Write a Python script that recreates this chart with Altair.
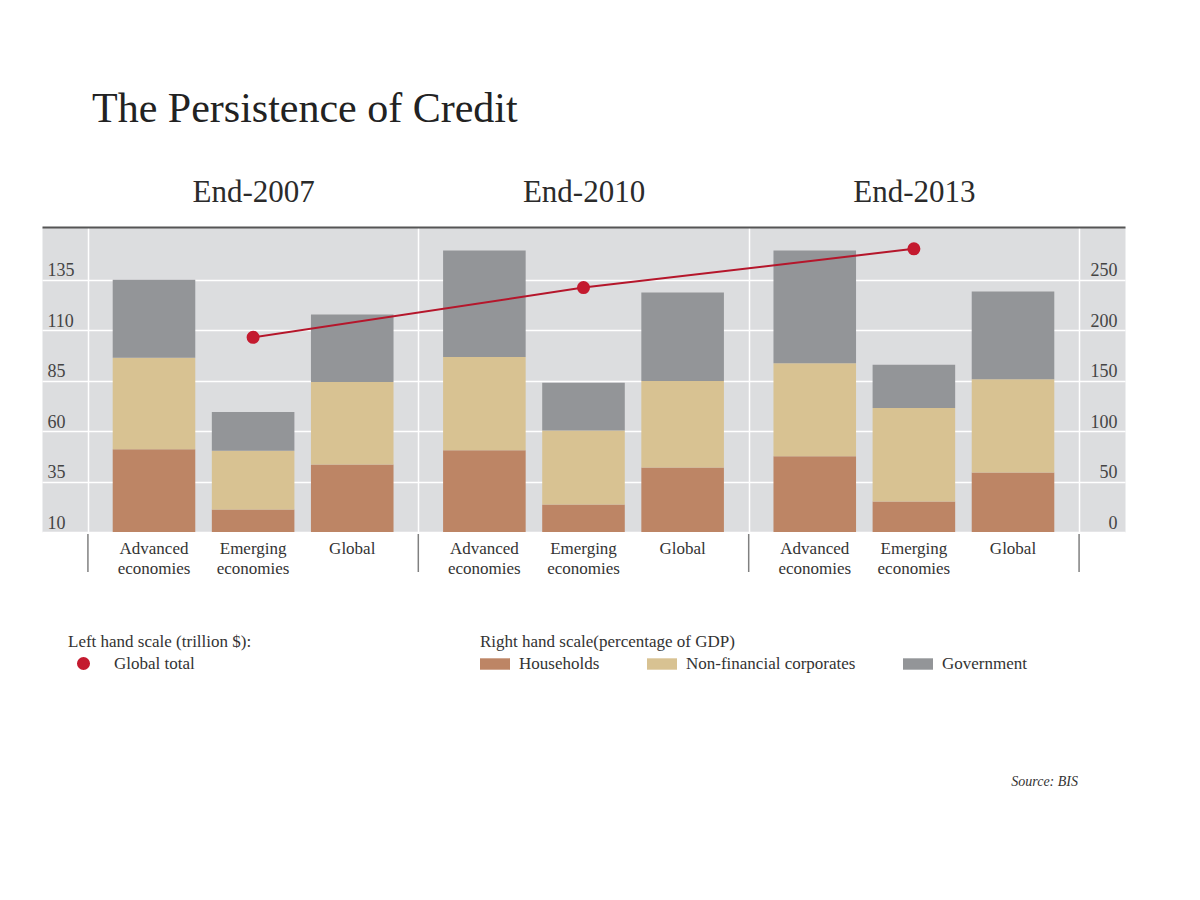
import altair as alt
import pandas as pd

# ---------------- data ----------------
periods = ["End-2007", "End-2010", "End-2013"]
categories = ["Advanced economies", "Emerging economies", "Global"]
sectors = ["Households", "Non-financial corporates", "Government"]

# right hand scale (percentage of GDP), order: periods x categories
households = [82.0, 22.2, 66.8, 81.0, 27.2, 63.9, 75.1, 30.2, 58.9]
corporates = [90.6, 58.2, 81.7, 92.3, 73.4, 85.6, 92.0, 92.5, 92.3]
government = [77.1, 38.4, 66.8, 105.5, 47.2, 87.6, 111.7, 43.0, 86.9]

# left hand scale (trillion $)
global_total = [106.4, 131.0, 150.2]

left_ticks = [10, 35, 60, 85, 110, 135]
right_ticks = [0, 50, 100, 150, 200, 250]

sector_colors = ["#bd8565", "#d8c292", "#939598"]
red = "#c41a2f"
FONT = "Liberation Serif"

rows = []
i = 0
for p in periods:
    for c in categories:
        for k, (s, vals) in enumerate(zip(sectors, [households, corporates, government])):
            rows.append({"period": p, "category": c, "sector": s, "value": vals[i], "order": k})
        i += 1
bars_df = pd.DataFrame(rows)

line_df = pd.DataFrame({"period": periods, "total": global_total, "label": ["Global total"] * 3})

label_rows = []
for p in periods:
    for c in categories:
        label_rows.append({"period": p, "category": c, "text": c.split(" ")})
labels_df = pd.DataFrame(label_rows)
periods_df = pd.DataFrame({"period": periods})
last_df = pd.DataFrame({"period": periods[-1:]})
source_df = pd.DataFrame({"t": ["Source: BIS"]})

W, H = 1083, 305

# ---------------- scales & axes ----------------
xscale = alt.Scale(type="band", domain=periods, paddingInner=0, paddingOuter=0.139)
xoff_scale = alt.Scale(domain=categories, paddingInner=0.167, paddingOuter=0.25)
y_right = alt.Scale(domain=[0, 302], nice=False, zero=False)
y_left = alt.Scale(domain=[10, 161], nice=False, zero=False)

xaxis = alt.Axis(
    orient="top", title=None, labelAngle=0, labelFont=FONT, labelFontSize=31,
    labelColor="#2b2b2b", labelPadding=26, labelBaseline="alphabetic",
    ticks=False, tickSize=0, tickBand="extent",
    grid=True, gridColor="white", gridWidth=1.5,
    domain=True, domainColor="#555555", domainWidth=2,
)

X = alt.X("period:N", scale=xscale, axis=xaxis, sort=periods)
XO = alt.XOffset("category:N", scale=xoff_scale, sort=categories)

bars = alt.Chart(bars_df).mark_bar().encode(
    x=X,
    xOffset=XO,
    y=alt.Y(
        "sum(value):Q", scale=y_right, stack="zero",
        axis=alt.Axis(
            orient="right", values=right_ticks, title=None, labelAlign="right",
            labelPadding=-8, ticks=False, tickSize=0, domain=False,
            grid=True, gridColor="white", gridWidth=1.5,
            labelFont=FONT, labelFontSize=18, labelColor="#444444",
            labelBaseline="bottom",
        ),
    ),
    fill=alt.Fill(
        "sector:N",
        scale=alt.Scale(domain=sectors, range=sector_colors),
        legend=alt.Legend(
            orient="none", legendX=438, legendY=407, direction="horizontal",
            title="Right hand scale(percentage of GDP)", titleFont=FONT,
            titleFontSize=17, titleFontWeight="normal", titleColor="#333333",
            titlePadding=-2, titleLimit=600, labelFont=FONT, labelFontSize=17,
            labelColor="#333333",
            symbolType="M-1,-0.38H1V0.38H-1Z", symbolSize=900, symbolStrokeWidth=0,
            symbolOpacity=1, labelOffset=9, columnPadding=47, labelLimit=300,
        ),
    ),
    order=alt.Order("order:Q", sort="ascending"),
)

line = alt.Chart(line_df).mark_line(color="#b5162b", strokeWidth=2).encode(
    x=X,
    y=alt.Y(
        "total:Q", scale=y_left,
        axis=alt.Axis(
            orient="left", values=left_ticks, title=None, labelAlign="left",
            labelPadding=-5, ticks=False, tickSize=0, domain=False, grid=False,
            labelFont=FONT, labelFontSize=18, labelColor="#444444",
            labelBaseline="bottom",
        ),
    ),
)

points = alt.Chart(line_df).mark_circle(size=170, opacity=1).encode(
    x=X,
    y=alt.Y("total:Q", scale=y_left, axis=None),
    color=alt.Color(
        "label:N",
        scale=alt.Scale(domain=["Global total"], range=[red]),
        legend=alt.Legend(
            orient="none", legendX=26, legendY=407, title="Left hand scale (trillion $):",
            titleFont=FONT, titleFontSize=17, titleFontWeight="normal",
            titleColor="#333333", titlePadding=4, titleLimit=600, labelFont=FONT,
            labelFontSize=17, labelColor="#333333", symbolType="circle", symbolSize=170,
            symbolOffset=7, labelOffset=22, symbolStrokeWidth=0, symbolOpacity=1,
        ),
    ),
)

cat_labels = alt.Chart(labels_df).mark_text(
    font=FONT, fontSize=17, color="#333333", baseline="alphabetic",
    align="center", lineHeight=20,
).encode(x=X, xOffset=XO, y=alt.value(H + 22), text="text")

ticks_start = alt.Chart(periods_df).mark_rule(color="#808080", strokeWidth=1.5).encode(
    x=alt.X("period:N", scale=xscale, axis=xaxis, sort=periods, bandPosition=0),
    y=alt.value(H + 2), y2=alt.value(H + 40),
)
ticks_end = alt.Chart(last_df).mark_rule(color="#808080", strokeWidth=1.5).encode(
    x=alt.X("period:N", scale=xscale, axis=xaxis, sort=periods, bandPosition=1),
    y=alt.value(H + 2), y2=alt.value(H + 40),
)

source = alt.Chart(source_df).mark_text(
    font=FONT, fontSize=14, fontStyle="italic", color="#333333",
    align="right", baseline="middle",
).encode(text="t:N", x=alt.value(1036), y=alt.value(555))

chart = alt.layer(
    bars, line, points, cat_labels, ticks_start, ticks_end, source
).resolve_scale(
    y="independent"
).properties(
    width=W, height=H,
    padding={"left": 34, "top": 219, "right": 30, "bottom": 280},
    autosize=alt.AutoSizeParams(type="none"),
    title=alt.Title(
        "The Persistence of Credit", anchor="start", frame="group", dx=50,
        offset=12, baseline="alphabetic", font=FONT, fontSize=42,
        fontWeight="normal", color="#222222",
    ),
).configure(
    font=FONT
).configure_view(
    fill="#dcdddf", stroke="transparent"
)

chart.save("out.html", embed_options={"renderer": "svg", "actions": False})
